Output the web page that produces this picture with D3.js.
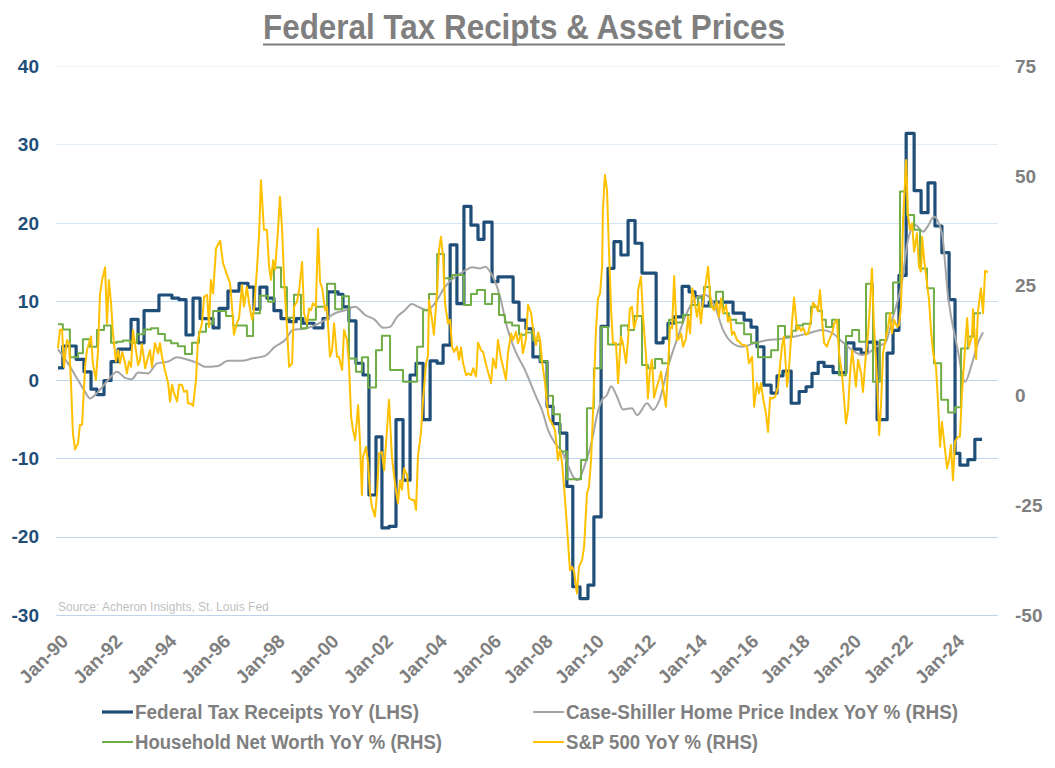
<!DOCTYPE html>
<html>
<head>
<meta charset="utf-8">
<script src="https://cdn.jsdelivr.net/npm/d3@7"></script>
<style>
  html, body { margin: 0; padding: 0; background: #ffffff; }
  svg { display: block; }
</style>
</head>
<body>
<svg id="chart" width="1055" height="768"></svg>
<script>
// ---------------- DATA (decimal year, value) ----------------
const chartTitle = "Federal Tax Recipts & Asset Prices";
const sourceNote = "Source: Acheron Insights, St. Louis Fed";
const seriesNames = [
  "Federal Tax Receipts YoY (LHS)",
  "Case-Shiller Home Price Index YoY % (RHS)",
  "Household Net Worth YoY % (RHS)",
  "S&P 500 YoY % (RHS)"
];
const tickYears = [1990,1992,1994,1996,1998,2000,2002,2004,2006,2008,2010,2012,2014,2016,2018,2020,2022,2024];
const tickLabels = ["Jan-90","Jan-92","Jan-94","Jan-96","Jan-98","Jan-00","Jan-02","Jan-04","Jan-06","Jan-08","Jan-10","Jan-12","Jan-14","Jan-16","Jan-18","Jan-20","Jan-22","Jan-24"];
const leftTicks = [-30,-20,-10,0,10,20,30,40];
const rightTicks = [-50,-25,0,25,50,75];

// Federal tax receipts YoY (LHS) - step levels
const taxReceipts = [[1990.00,1.5],[1990.18,4.3],[1990.67,2.6],[1990.96,1.0],[1991.22,-1.2],[1991.44,-1.9],[1991.70,-0.1],[1991.96,2.3],[1992.22,3.9],[1992.70,7.7],[1992.96,4.7],[1993.18,8.8],[1993.73,10.8],[1994.21,10.4],[1994.47,10.2],[1994.73,5.7],[1994.99,10.4],[1995.25,7.8],[1995.73,6.6],[1995.95,9.1],[1996.28,11.3],[1996.69,12.3],[1997.02,11.8],[1997.24,9.0],[1997.46,11.8],[1997.72,10.4],[1997.98,8.8],[1998.24,7.8],[1998.54,7.4],[1998.80,7.8],[1999.05,7.2],[1999.46,6.6],[1999.79,7.8],[1999.98,11.2],[2000.35,10.9],[2000.53,9.3],[2000.75,7.5],[2001.01,2.1],[2001.27,0.6],[2001.49,-14.7],[2001.75,-7.3],[2001.97,-18.9],[2002.23,-18.7],[2002.49,-5.1],[2002.75,-12.8],[2003.01,0.6],[2003.23,2.1],[2003.49,-5.1],[2003.75,2.4],[2004.01,2.1],[2004.23,4.4],[2004.49,17.2],[2004.74,9.7],[2005.00,22.1],[2005.26,19.7],[2005.52,17.9],[2005.74,20.1],[2006.04,12.5],[2006.27,13.1],[2006.86,9.9],[2007.09,7.6],[2007.36,6.5],[2007.63,2.9],[2007.91,2.3],[2008.18,-3.4],[2008.41,-5.6],[2008.68,-6.8],[2008.95,-13.6],[2009.18,-26.4],[2009.46,-27.9],[2009.77,-26.2],[2010.00,-17.5],[2010.28,6.8],[2010.55,14.2],[2010.78,17.6],[2011.05,15.9],[2011.33,20.3],[2011.60,17.4],[2011.87,13.6],[2012.42,4.7],[2012.69,5.3],[2012.88,7.2],[2013.11,8.0],[2013.43,11.9],[2013.70,11.2],[2013.93,10.6],[2014.24,9.4],[2014.48,9.9],[2015.41,8.5],[2015.84,7.6],[2016.11,6.7],[2016.34,4.2],[2016.61,-0.7],[2016.89,-1.7],[2017.12,0.5],[2017.35,1.1],[2017.67,-3.0],[2017.98,-1.5],[2018.25,-0.9],[2018.48,0.8],[2018.72,2.2],[2018.95,1.7],[2019.30,0.9],[2019.80,4.7],[2020.11,3.9],[2020.39,3.4],[2020.62,4.8],[2021.01,-5.1],[2021.40,3.4],[2021.63,6.3],[2021.86,13.3],[2022.14,31.4],[2022.45,24.1],[2022.72,21.3],[2022.99,25.1],[2023.26,19.6],[2023.53,16.2],[2023.81,10.2],[2024.04,-9.4],[2024.23,-10.9],[2024.54,-10.2],[2024.81,-7.6],[2025.09,-7.6]];

// Case-Shiller home price index YoY % (RHS)
const caseShiller = [[1990.00,10.5],[1990.37,7.3],[1990.74,3.5],[1991.00,0.8],[1991.18,-0.7],[1991.48,0.8],[1991.85,3.5],[1992.18,5.4],[1992.48,4.0],[1992.73,3.7],[1992.96,5.2],[1993.33,5.0],[1993.66,7.3],[1994.07,7.7],[1994.40,8.7],[1994.80,8.1],[1995.17,7.3],[1995.43,6.5],[1995.91,6.7],[1996.28,7.9],[1996.80,7.9],[1997.17,8.4],[1997.65,9.0],[1998.02,11.1],[1998.39,12.6],[1998.68,14.9],[1999.13,15.2],[1999.76,16.8],[2000.24,18.7],[2000.61,19.4],[2000.98,20.2],[2001.35,18.3],[2001.71,17.2],[2002.01,15.4],[2002.27,15.6],[2002.53,17.9],[2002.82,19.4],[2003.08,20.8],[2003.30,20.2],[2003.64,19.4],[2003.93,21.0],[2004.30,24.7],[2004.67,27.0],[2005.04,28.4],[2005.30,29.2],[2005.59,28.9],[2005.78,29.3],[2006.04,27.4],[2006.35,22.5],[2006.62,15.6],[2006.93,10.3],[2007.32,5.8],[2007.59,2.0],[2007.79,-0.8],[2007.98,-3.3],[2008.22,-7.9],[2008.49,-10.9],[2008.76,-12.8],[2008.99,-15.8],[2009.19,-18.5],[2009.38,-19.3],[2009.65,-15.8],[2009.93,-10.2],[2010.12,-4.5],[2010.32,-1.0],[2010.51,0.1],[2010.67,2.1],[2010.90,-0.3],[2011.13,-3.2],[2011.48,-2.9],[2011.68,-4.5],[2012.07,-1.8],[2012.30,-3.3],[2012.57,-0.7],[2012.88,6.5],[2013.27,13.4],[2013.66,19.4],[2014.05,22.5],[2014.32,22.9],[2014.71,20.2],[2015.02,14.9],[2015.37,12.0],[2015.76,11.1],[2016.26,11.9],[2016.77,12.6],[2017.16,12.8],[2017.82,13.4],[2018.32,14.1],[2018.87,14.9],[2019.30,14.1],[2019.65,12.2],[2020.04,10.3],[2020.43,9.2],[2020.66,9.6],[2021.01,11.2],[2021.32,11.9],[2021.63,17.9],[2021.98,25.9],[2022.21,35.4],[2022.49,38.8],[2022.80,37.3],[2022.99,38.6],[2023.22,40.7],[2023.53,36.9],[2023.77,22.5],[2024.12,11.1],[2024.43,3.1],[2024.70,7.3],[2024.93,11.9],[2025.13,14.4]];

// Household net worth YoY % (RHS) - quarterly steps
const netWorth = [[1990.00,16.2],[1990.18,15.0],[1990.44,8.7],[1990.74,9.6],[1990.92,12.8],[1991.18,11.1],[1991.44,14.9],[1991.70,15.9],[1991.96,12.0],[1992.18,12.2],[1992.40,12.5],[1992.66,12.0],[1992.92,13.9],[1993.18,15.0],[1993.44,15.3],[1993.70,14.0],[1993.95,12.5],[1994.18,11.9],[1994.43,11.2],[1994.69,9.4],[1994.95,12.0],[1995.21,14.5],[1995.47,16.3],[1995.73,19.2],[1996.21,18.1],[1996.47,15.9],[1996.98,13.5],[1997.21,18.7],[1997.46,22.7],[1997.76,21.3],[1997.98,29.1],[1998.24,24.6],[1998.46,17.7],[1998.72,22.9],[1998.98,15.3],[1999.20,17.2],[1999.53,20.2],[1999.94,25.4],[2000.24,19.6],[2000.50,22.6],[2000.75,8.4],[2001.01,5.4],[2001.23,8.7],[2001.46,1.8],[2001.75,10.3],[2001.97,13.6],[2002.27,5.8],[2002.75,3.1],[2003.27,11.1],[2003.49,19.4],[2003.71,23.1],[2004.01,32.2],[2004.26,26.7],[2004.56,27.4],[2005.00,20.6],[2005.26,23.1],[2005.48,24.0],[2005.78,20.8],[2006.04,23.1],[2006.31,18.3],[2006.54,16.6],[2006.82,15.9],[2007.09,13.8],[2007.36,14.3],[2007.63,12.5],[2007.91,7.8],[2008.18,-0.1],[2008.41,-4.3],[2008.68,-12.8],[2008.95,-19.1],[2009.50,-14.7],[2009.73,-2.9],[2010.00,6.2],[2010.28,15.6],[2010.55,11.6],[2011.05,15.9],[2011.33,14.9],[2011.56,18.1],[2011.87,6.9],[2012.10,6.2],[2012.38,8.3],[2012.65,7.3],[2012.92,17.2],[2013.15,16.6],[2013.46,18.3],[2013.78,20.6],[2014.05,22.3],[2014.28,24.7],[2014.51,20.2],[2014.75,23.6],[2015.02,18.7],[2015.25,17.2],[2015.53,16.4],[2015.84,13.9],[2016.11,12.0],[2016.38,8.7],[2016.89,10.3],[2017.16,15.8],[2017.43,13.4],[2017.70,14.7],[2017.86,15.9],[2018.13,16.3],[2018.44,20.2],[2018.71,19.3],[2018.87,17.2],[2019.02,15.6],[2019.26,17.2],[2019.53,4.6],[2019.80,13.5],[2020.04,14.9],[2020.31,12.2],[2020.58,25.4],[2020.85,3.1],[2021.12,12.6],[2021.36,18.7],[2021.63,25.7],[2021.90,46.4],[2022.17,41.1],[2022.45,37.7],[2022.68,28.9],[2022.95,24.4],[2023.22,7.3],[2023.50,-1.0],[2023.77,-3.9],[2024.04,-2.7],[2024.27,10.7],[2024.55,13.4],[2024.78,18.7],[2025.05,18.7]];

// S&P 500 YoY % (RHS)
const sp500 = [[1990.00,10.7],[1990.07,14.9],[1990.15,15.0],[1990.22,6.5],[1990.33,12.6],[1990.41,11.9],[1990.48,2.8],[1990.55,-8.6],[1990.63,-12.3],[1990.74,-10.9],[1990.81,-6.7],[1990.89,-6.7],[1991.00,6.5],[1991.07,10.3],[1991.22,13.4],[1991.29,7.3],[1991.40,3.5],[1991.48,10.3],[1991.55,22.9],[1991.63,26.3],[1991.74,29.2],[1991.81,16.4],[1991.88,26.3],[1991.96,21.0],[1992.03,14.1],[1992.14,7.7],[1992.22,10.3],[1992.29,7.3],[1992.37,9.9],[1992.44,8.4],[1992.55,5.0],[1992.62,7.7],[1992.70,6.5],[1992.77,14.9],[1992.88,10.3],[1992.96,6.9],[1993.03,8.1],[1993.10,11.7],[1993.22,6.2],[1993.33,8.8],[1993.40,10.3],[1993.47,6.5],[1993.58,11.9],[1993.70,9.6],[1993.77,11.9],[1993.84,8.9],[1993.95,5.8],[1994.07,2.8],[1994.14,-1.4],[1994.21,2.4],[1994.29,0.5],[1994.40,-1.4],[1994.47,2.4],[1994.58,2.4],[1994.66,0.8],[1994.77,1.1],[1994.80,-1.8],[1994.92,-1.9],[1994.99,-2.4],[1995.10,3.5],[1995.17,12.6],[1995.32,16.4],[1995.40,22.5],[1995.51,22.9],[1995.58,15.6],[1995.65,26.3],[1995.73,23.2],[1995.84,33.5],[1995.99,35.2],[1996.10,30.1],[1996.25,27.4],[1996.36,25.5],[1996.43,20.2],[1996.50,13.8],[1996.61,16.4],[1996.69,17.6],[1996.80,25.1],[1996.87,20.2],[1996.98,24.7],[1997.06,21.0],[1997.17,17.2],[1997.24,19.4],[1997.35,28.6],[1997.43,36.5],[1997.50,49.0],[1997.61,37.7],[1997.72,37.7],[1997.80,29.3],[1997.87,26.3],[1997.95,30.8],[1998.02,28.6],[1998.13,37.7],[1998.20,45.2],[1998.28,38.0],[1998.35,26.7],[1998.46,15.6],[1998.54,6.5],[1998.65,7.3],[1998.72,20.2],[1998.83,21.3],[1998.91,24.0],[1999.02,30.4],[1999.09,18.7],[1999.20,16.4],[1999.28,19.8],[1999.35,19.4],[1999.42,21.0],[1999.53,20.2],[1999.61,38.0],[1999.68,25.9],[1999.76,24.4],[1999.87,19.4],[1999.94,20.2],[2000.05,8.8],[2000.13,10.3],[2000.20,16.4],[2000.31,8.8],[2000.38,8.8],[2000.50,5.8],[2000.57,14.9],[2000.68,12.6],[2000.75,7.3],[2000.83,-4.8],[2000.90,-7.9],[2000.98,-10.2],[2001.09,-2.2],[2001.16,-10.9],[2001.23,-22.7],[2001.27,-14.0],[2001.38,-11.7],[2001.46,-15.5],[2001.53,-22.3],[2001.60,-25.3],[2001.71,-27.6],[2001.79,-22.3],[2001.86,-13.2],[2001.97,-12.9],[2002.05,-17.0],[2002.16,-7.5],[2002.23,-1.0],[2002.34,-14.0],[2002.45,-20.0],[2002.56,-24.6],[2002.64,-19.3],[2002.71,-21.5],[2002.79,-16.6],[2002.90,-18.1],[2002.97,-23.4],[2003.08,-23.8],[2003.16,-23.8],[2003.23,-26.1],[2003.30,-14.0],[2003.41,-8.6],[2003.49,-1.0],[2003.60,7.3],[2003.67,8.9],[2003.71,21.7],[2003.82,17.2],[2003.89,13.8],[2004.01,24.0],[2004.08,33.1],[2004.15,36.1],[2004.23,31.6],[2004.30,21.0],[2004.41,16.4],[2004.49,17.2],[2004.56,11.1],[2004.63,9.9],[2004.74,11.1],[2004.82,8.1],[2004.89,10.9],[2004.97,7.3],[2005.08,4.6],[2005.15,5.0],[2005.26,4.6],[2005.34,6.2],[2005.45,4.3],[2005.52,12.0],[2005.63,10.3],[2005.71,9.9],[2005.82,6.9],[2005.89,5.4],[2006.00,2.8],[2006.08,8.4],[2006.19,6.2],[2006.27,12.6],[2006.39,8.4],[2006.47,6.5],[2006.58,3.5],[2006.66,9.6],[2006.78,14.1],[2006.86,12.6],[2006.97,14.5],[2007.05,11.9],[2007.17,14.1],[2007.24,9.6],[2007.36,12.9],[2007.44,20.6],[2007.56,18.7],[2007.63,15.3],[2007.75,11.5],[2007.83,14.3],[2007.91,12.6],[2007.98,8.0],[2008.10,2.8],[2008.22,-4.1],[2008.29,-5.6],[2008.37,-6.3],[2008.49,-7.9],[2008.60,-14.7],[2008.68,-12.4],[2008.76,-15.1],[2008.88,-23.8],[2008.99,-32.9],[2009.07,-39.8],[2009.15,-39.0],[2009.23,-40.1],[2009.34,-45.1],[2009.42,-39.0],[2009.54,-37.5],[2009.62,-34.4],[2009.73,-22.3],[2009.81,-20.8],[2009.89,-14.7],[2009.97,-3.3],[2010.08,14.9],[2010.16,22.1],[2010.24,23.2],[2010.32,29.3],[2010.35,42.2],[2010.43,50.2],[2010.51,46.8],[2010.59,32.4],[2010.67,19.4],[2010.74,12.0],[2010.86,11.9],[2010.94,2.8],[2011.05,13.4],[2011.13,11.9],[2011.25,7.3],[2011.33,12.9],[2011.40,19.8],[2011.48,20.2],[2011.56,15.3],[2011.68,17.9],[2011.72,24.0],[2011.83,27.0],[2011.91,17.9],[2012.03,8.8],[2012.10,-0.7],[2012.18,5.8],[2012.26,8.1],[2012.34,-0.5],[2012.45,2.0],[2012.53,3.5],[2012.61,5.4],[2012.69,1.6],[2012.80,-2.6],[2012.88,5.8],[2012.96,15.6],[2013.04,15.3],[2013.12,27.2],[2013.23,12.6],[2013.31,12.9],[2013.39,14.1],[2013.47,11.1],[2013.58,12.9],[2013.66,17.9],[2013.74,14.1],[2013.82,24.4],[2013.89,22.5],[2014.01,17.9],[2014.09,21.0],[2014.16,16.4],[2014.24,21.3],[2014.36,25.9],[2014.44,29.3],[2014.51,23.2],[2014.59,20.2],[2014.67,19.4],[2014.79,21.3],[2014.86,17.9],[2014.94,22.1],[2015.02,18.7],[2015.14,20.6],[2015.21,16.8],[2015.29,17.9],[2015.37,13.8],[2015.45,14.5],[2015.56,12.6],[2015.64,12.3],[2015.76,11.5],[2015.84,11.5],[2015.95,11.1],[2016.03,7.3],[2016.15,8.8],[2016.23,-2.6],[2016.34,2.8],[2016.42,0.5],[2016.50,2.8],[2016.58,-0.7],[2016.69,-4.1],[2016.77,-8.3],[2016.85,-0.5],[2016.93,-0.7],[2017.04,-0.4],[2017.16,2.0],[2017.24,7.0],[2017.31,11.0],[2017.39,13.4],[2017.51,2.0],[2017.59,6.5],[2017.70,16.4],[2017.78,22.3],[2017.90,14.9],[2017.98,15.6],[2018.05,14.7],[2018.13,15.4],[2018.25,13.8],[2018.33,14.1],[2018.44,17.2],[2018.52,21.1],[2018.64,20.2],[2018.71,19.1],[2018.79,24.0],[2018.87,17.2],[2018.95,11.9],[2019.06,11.1],[2019.14,12.6],[2019.26,14.1],[2019.34,16.4],[2019.45,17.2],[2019.53,9.6],[2019.65,4.6],[2019.72,-0.3],[2019.80,-6.4],[2019.88,-3.3],[2019.96,5.0],[2020.04,10.3],[2020.11,6.5],[2020.19,2.0],[2020.27,8.1],[2020.39,5.0],[2020.46,0.8],[2020.58,9.6],[2020.66,14.1],[2020.74,21.3],[2020.81,28.9],[2020.89,15.6],[2021.01,3.5],[2021.09,-9.0],[2021.16,-2.6],[2021.24,9.6],[2021.32,12.2],[2021.44,15.6],[2021.51,18.7],[2021.59,14.1],[2021.67,17.2],[2021.79,15.6],[2021.86,16.0],[2021.94,20.2],[2022.02,39.9],[2022.14,53.6],[2022.21,41.1],[2022.29,37.7],[2022.37,39.2],[2022.45,32.7],[2022.56,36.9],[2022.64,29.3],[2022.72,28.2],[2022.76,36.1],[2022.84,30.8],[2022.95,25.5],[2023.03,21.7],[2023.11,14.5],[2023.19,9.6],[2023.30,6.5],[2023.38,-1.8],[2023.46,-11.7],[2023.53,-6.0],[2023.61,-10.2],[2023.73,-16.6],[2023.81,-14.7],[2023.88,-11.3],[2023.96,-19.3],[2024.04,-10.5],[2024.16,-9.4],[2024.23,-9.4],[2024.31,0.5],[2024.43,10.8],[2024.51,17.6],[2024.58,11.0],[2024.70,13.4],[2024.74,19.6],[2024.86,8.3],[2024.93,19.0],[2025.05,24.4],[2025.13,18.7],[2025.21,28.4],[2025.32,28.0]];

const colors = { tax: "#1f4e79", cs: "#a5a5a5", nw: "#70ad47", sp: "#ffc000" };

// ---------------- DRAW ----------------
const svg = d3.select("#chart");
svg.append("rect").attr("width", 1055).attr("height", 768).attr("fill", "#ffffff");

const plotL = 56, plotR = 998;
const x = d3.scaleLinear().domain([1990, 2006, 2024]).range([58, 491, 954]);
const yL = d3.scaleLinear().domain([-30, 40]).range([615, 66]);
const yR = d3.scaleLinear().domain([-50, 75]).range([615, 66]);

// gridlines (fade toward the top)
const gridOpacity = d3.scaleLinear().domain([40, 0]).range([0.25, 1]).clamp(true);
svg.append("g").selectAll("line").data(leftTicks).join("line")
  .attr("x1", plotL).attr("x2", plotR)
  .attr("y1", d => Math.round(yL(d)) + 0.5).attr("y2", d => Math.round(yL(d)) + 0.5)
  .attr("stroke", "#bcd5ed").attr("stroke-width", 1.2)
  .attr("stroke-opacity", d => gridOpacity(d));

const narrowFont = "'Liberation Sans Narrow','Arial Narrow','Liberation Sans',Arial,sans-serif";
const axisFont = "'Liberation Sans',Arial,sans-serif";

// title (condensed face, fitted to the reference width)
svg.append("text")
  .attr("x", 263).attr("y", 39)
  .attr("font-family", narrowFont)
  .attr("font-weight", "bold").attr("font-size", 35)
  .attr("fill", "#7f7f7f")
  .attr("textLength", 522).attr("lengthAdjust", "spacingAndGlyphs")
  .text(chartTitle);
svg.append("line")
  .attr("x1", 263).attr("x2", 785).attr("y1", 44.5).attr("y2", 44.5)
  .attr("stroke", "#7f7f7f").attr("stroke-width", 2.2);

// left axis labels
svg.append("g").selectAll("text").data(leftTicks).join("text")
  .attr("x", 39).attr("y", d => yL(d)).attr("dy", "0.36em")
  .attr("text-anchor", "end")
  .attr("font-family", axisFont).attr("font-weight", "bold").attr("font-size", 19)
  .attr("fill", "#1f4e79")
  .text(d => d);

// right axis labels
svg.append("g").selectAll("text").data(rightTicks).join("text")
  .attr("x", 1015).attr("y", d => yR(d)).attr("dy", "0.36em")
  .attr("text-anchor", "start")
  .attr("font-family", axisFont).attr("font-weight", "bold").attr("font-size", 19)
  .attr("fill", "#7f7f7f")
  .text(d => d);

// x labels rotated
svg.append("g").selectAll("text").data(tickYears).join("text")
  .attr("transform", d => `translate(${x(d) + 2},${633}) rotate(-45)`)
  .attr("text-anchor", "end")
  .attr("dy", "0.7em")
  .attr("font-family", axisFont).attr("font-weight", "bold").attr("font-size", 19)
  .attr("fill", "#7f7f7f")
  .text((d, i) => tickLabels[i]);

// source note
svg.append("text")
  .attr("x", 58).attr("y", 611)
  .attr("font-family", axisFont).attr("font-size", 12)
  .attr("fill", "#bfbfbf")
  .text(sourceNote);

// lines
const g = svg.append("g");
const lineTax = d3.line().x(d => x(d[0])).y(d => yL(d[1])).curve(d3.curveStepAfter);
const lineCS = d3.line().x(d => x(d[0])).y(d => yR(d[1])).curve(d3.curveMonotoneX);
const lineNW = d3.line().x(d => x(d[0])).y(d => yR(d[1])).curve(d3.curveStepAfter);
const lineSP = d3.line().x(d => x(d[0])).y(d => yR(d[1]));

g.append("path").datum(taxReceipts).attr("d", lineTax)
  .attr("fill", "none").attr("stroke", colors.tax).attr("stroke-width", 3.2).attr("stroke-linejoin", "round");
g.append("path").datum(caseShiller).attr("d", lineCS)
  .attr("fill", "none").attr("stroke", colors.cs).attr("stroke-width", 2).attr("stroke-linejoin", "round");
g.append("path").datum(netWorth).attr("d", lineNW)
  .attr("fill", "none").attr("stroke", colors.nw).attr("stroke-width", 2).attr("stroke-linejoin", "round");
g.append("path").datum(sp500).attr("d", lineSP)
  .attr("fill", "none").attr("stroke", colors.sp).attr("stroke-width", 2).attr("stroke-linejoin", "round");

// legend
const legendItems = [
  { name: seriesNames[0], color: colors.tax, w: 3.2, lx: 102, ly: 712, tw: 284 },
  { name: seriesNames[1], color: colors.cs, w: 2, lx: 533, ly: 712, tw: 392 },
  { name: seriesNames[2], color: colors.nw, w: 2, lx: 102, ly: 742, tw: 307 },
  { name: seriesNames[3], color: colors.sp, w: 2, lx: 533, ly: 742, tw: 192 }
];
const lg = svg.append("g").selectAll("g").data(legendItems).join("g")
  .attr("transform", d => `translate(${d.lx},${d.ly})`);
lg.append("line").attr("x1", 0).attr("x2", 31).attr("y1", 0).attr("y2", 0)
  .attr("stroke", d => d.color).attr("stroke-width", d => d.w);
lg.append("text").attr("x", 33).attr("y", 0).attr("dy", "0.36em")
  .attr("font-family", narrowFont)
  .attr("font-weight", "bold").attr("font-size", 20)
  .attr("fill", "#7f7f7f")
  .attr("textLength", d => d.tw).attr("lengthAdjust", "spacingAndGlyphs")
  .text(d => d.name);
</script>
</body>
</html>
